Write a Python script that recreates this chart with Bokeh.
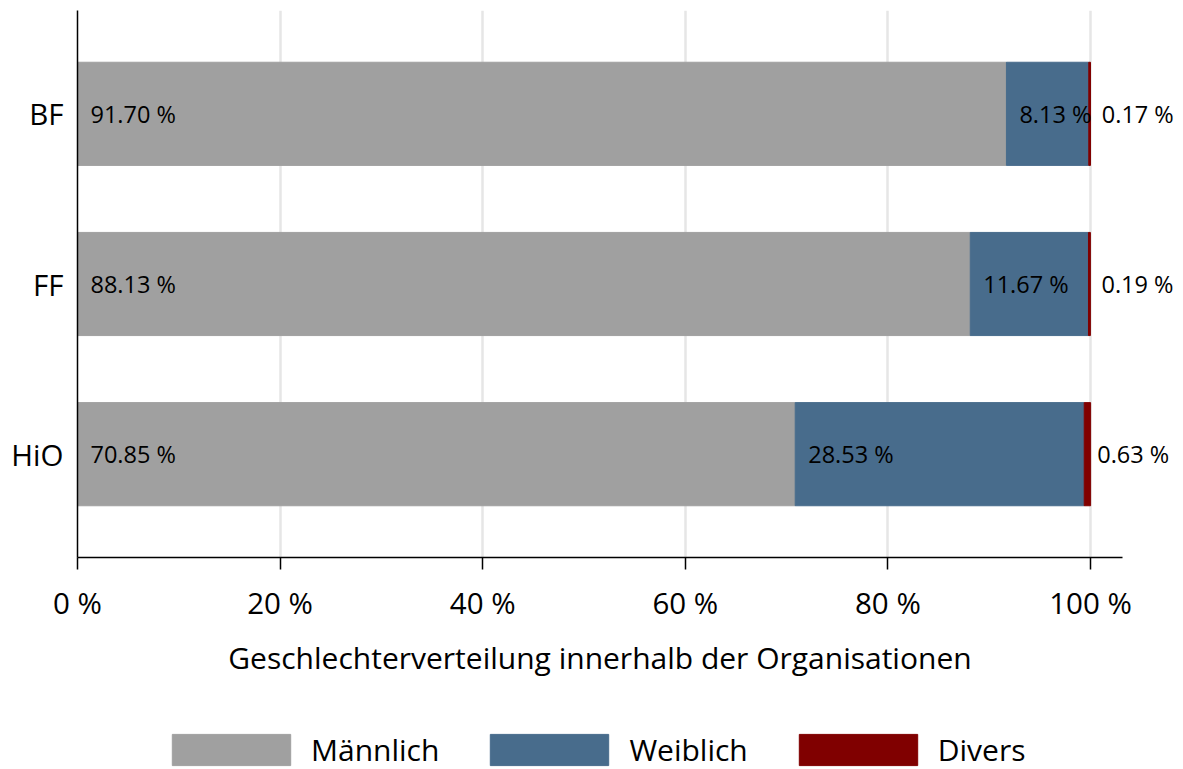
from bokeh.plotting import figure
from bokeh.layouts import column
from bokeh.models import (ColumnDataSource, Range1d, FixedTicker, Label,
                          Legend, LegendItem, LabelSet)
from bokeh.core.properties import value
from bokeh.embed import file_html
from bokeh.resources import INLINE

# ---- data ----
orgs = ["HiO", "FF", "BF"]
maennlich = [70.85, 88.13, 91.70]
weiblich = [28.53, 11.67, 8.13]
divers = [0.63, 0.19, 0.17]
series_names = ["Männlich", "Weiblich", "Divers"]
series_colors = ["#a0a0a0", "#486c8c", "#800000"]
x_ticks = [0, 20, 40, 60, 80, 100]
x_tick_labels = ["0 %", "20 %", "40 %", "60 %", "80 %", "100 %"]
x_title = "Geschlechterverteilung innerhalb der Organisationen"

FONT = "Open Sans"
ypos = list(range(len(orgs)))
AXIS_BOUNDS = (0, 103.15)

W, H = 1183, 769
H1 = 625
LEG_H = H - H1

p = figure(width=W, height=H1, output_backend="svg", toolbar_location=None,
           x_range=Range1d(0, 109.18), y_range=Range1d(-0.607, len(orgs) - 1 + 0.607),
           min_border_left=77, min_border_right=0, min_border_top=10,
           min_border_bottom=H1 - 557)
p.outline_line_color = None

src = ColumnDataSource(dict(y=ypos, m=maennlich, w=weiblich, d=divers))
renderers = p.hbar_stack(["m", "w", "d"], y="y", height=0.606,
                         color=series_colors, source=src)

# value labels
series_vals = [maennlich, weiblich, divers]
starts = [0.0] * len(orgs)
for vals in series_vals:
    lsrc = ColumnDataSource(dict(x=list(starts), y=ypos,
                                 t=["%.2f %%" % v for v in vals]))
    p.add_layout(LabelSet(x="x", y="y", text="t", source=lsrc, x_offset=13,
                          text_baseline="middle", text_align="left",
                          text_font=value(FONT), text_font_size="23.5px",
                          text_color="black"))
    starts = [s + v for s, v in zip(starts, vals)]

# grid
p.xgrid.ticker = FixedTicker(ticks=x_ticks)
p.xgrid.grid_line_color = "#e6e6e6"
p.xgrid.grid_line_width = 2.5
p.ygrid.visible = False

# x axis
xa = p.xaxis[0]
xa.bounds = AXIS_BOUNDS
xa.ticker = FixedTicker(ticks=x_ticks)
xa.major_label_overrides = dict(zip(x_ticks, x_tick_labels))
xa.major_label_text_font = FONT
xa.major_label_text_font_size = "29.5px"
xa.major_label_text_color = "black"
xa.major_label_standoff = 12
xa.minor_tick_line_color = None
xa.major_tick_in = 0
xa.major_tick_out = 12
xa.major_tick_line_width = 1.5
xa.major_tick_line_color = "black"
xa.axis_line_width = 1.5
xa.axis_line_color = "black"

# y axis
ya = p.yaxis[0]
ya.ticker = FixedTicker(ticks=ypos)
ya.major_label_overrides = dict(zip(ypos, orgs))
ya.major_label_text_font = FONT
ya.major_label_text_font_size = "29.5px"
ya.major_label_text_color = "black"
ya.major_label_standoff = 14
ya.major_tick_in = 0
ya.major_tick_out = 0
ya.minor_tick_line_color = None
ya.major_tick_line_color = None
ya.axis_line_width = 1.5
ya.axis_line_color = "black"

# strip below: axis title (centred under the drawn axis) and legend
lp = figure(width=W, height=LEG_H, output_backend="svg", toolbar_location=None,
            x_axis_type=None, y_axis_type=None, min_border=0,
            min_border_left=77, x_range=p.x_range, y_range=Range1d(0, 1))
lp.outline_line_color = None
lp.grid.visible = False
lp.add_layout(Label(x=sum(AXIS_BOUNDS) / 2, y=112, x_units="data", y_units="screen",
                    text=x_title, text_align="center", text_baseline="alphabetic",
                    text_font=FONT, text_font_size="30px", text_color="black"))

nan = float("nan")
dummies = [lp.hbar(y=[nan], right=[nan], height=1, color=c) for c in series_colors]
legend = Legend(items=[LegendItem(label=n, renderers=[r])
                       for n, r in zip(series_names, dummies)],
                orientation="horizontal", location=(80, -1),
                glyph_width=148, glyph_height=39, label_standoff=6, spacing=36,
                padding=0, margin=0, border_line_color=None,
                background_fill_alpha=0, label_text_font=FONT,
                label_text_font_size="30px", label_text_color="black")
lp.add_layout(legend)

layout = column(p, lp)
open("out.html", "w").write(file_html(layout, INLINE))
